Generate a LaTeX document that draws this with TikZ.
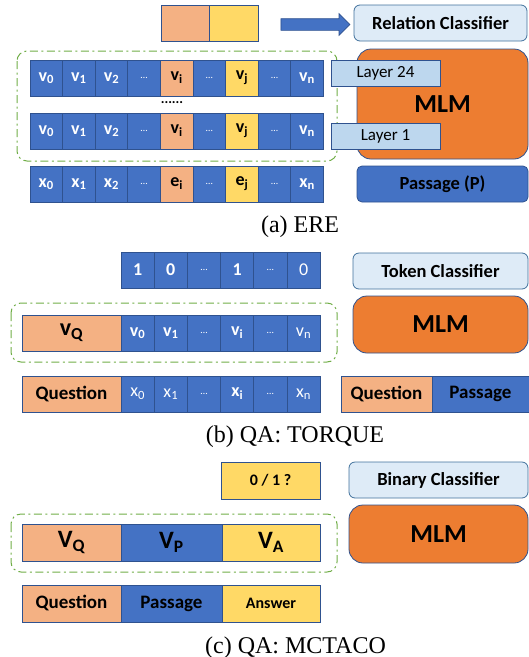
\documentclass[tikz,border=0pt]{standalone}
\usepackage{fontspec}
\setmainfont{Carlito}
\newfontfamily\capfont{Liberation Serif}
\usetikzlibrary{shapes.arrows}

\definecolor{cblue}{HTML}{4472C4}
\definecolor{bdblue}{HTML}{2F528F}
\definecolor{cpeach}{HTML}{F4B183}
\definecolor{cyel}{HTML}{FFD966}
\definecolor{corange}{HTML}{ED7D31}
\definecolor{clight}{HTML}{DEEBF7}
\definecolor{clayer}{HTML}{BDD7EE}
\definecolor{bdcls}{HTML}{41719C}
\definecolor{cgreen}{HTML}{70AD47}

\newcommand{\fsz}[1]{\fontsize{#1}{#1}\selectfont}

\begin{document}
\begin{tikzpicture}[x=1pt,y=-1pt,
    tokcell/.style={draw=bdblue, line width=0.7pt, fill=cblue, text=white, minimum width=32.6pt, minimum height=36pt, inner sep=0pt, font=\bfseries\fsz{18}},
    wide/.style={minimum width=99pt},
    peach/.style={fill=cpeach, text=black},
    yel/.style={fill=cyel, text=black},
    ellcell/.style={tokcell, font=\fsz{10}},
    clsbox/.style={draw=bdcls, line width=0.8pt, fill=clight, rounded corners=6pt, minimum height=36pt, inner sep=0pt, font=\bfseries\fsz{18.5}},
    mlmbox/.style={draw=bdblue, line width=0.8pt, fill=corange, rounded corners=14pt, inner sep=0pt, font=\bfseries\fsz{26}},
    layerbox/.style={draw=bdblue, line width=0.7pt, fill=clayer, minimum width=109pt, minimum height=26pt, inner sep=0pt, font=\fsz{17}},
    groupbox/.style={draw=cgreen, line width=1pt, dash pattern=on 8pt off 3.5pt on 2pt off 3.5pt, rounded corners=10pt},
    capt/.style={font=\capfont\fsz{24}, anchor=base}]
    \useasboundingbox (0,0) rectangle (529,657);

    %%%%%%%%%% (a) ERE
    % pair and arrow
    \node [tokcell, peach, minimum width=48pt] (pi) at (185,23) {};
    \node [tokcell, yel, minimum width=49pt] (pj) at (233.5,23) {};
    \node [single arrow, draw=bdblue, fill=cblue, line width=0.7pt, minimum height=69pt, inner sep=5.5pt, single arrow head extend=5pt] (arr) at (312.5,24.5) {};
    \node [clsbox, minimum width=173pt] (rel) at (440.5,23) {Relation Classifier};

    % group
    \draw [groupbox] (17,51) rectangle (337,161);

    % layer 24
    \node [tokcell] (t0) at (46.3,78) {v\textsubscript{0}};
    \node [tokcell] (t1) at (78.9,78) {v\textsubscript{1}};
    \node [tokcell] (t2) at (111.5,78) {v\textsubscript{2}};
    \node [ellcell] (t3) at (144.1,78) {\ldots};
    \node [tokcell, peach] (t4) at (176.7,78) {v\textsubscript{i}};
    \node [ellcell] (t5) at (209.3,78) {\ldots};
    \node [tokcell, yel] (t6) at (241.9,78) {v\textsubscript{j}};
    \node [ellcell] (t7) at (274.5,78) {\ldots};
    \node [tokcell] (t8) at (307.1,78) {v\textsubscript{n}};

    \node [font=\bfseries\fsz{14}] (skip) at (172,103) {......};

    % layer 1
    \node [tokcell] (m0) at (46.3,131) {v\textsubscript{0}};
    \node [tokcell] (m1) at (78.9,131) {v\textsubscript{1}};
    \node [tokcell] (m2) at (111.5,131) {v\textsubscript{2}};
    \node [ellcell] (m3) at (144.1,131) {\ldots};
    \node [tokcell, peach] (m4) at (176.7,131) {v\textsubscript{i}};
    \node [ellcell] (m5) at (209.3,131) {\ldots};
    \node [tokcell, yel] (m6) at (241.9,131) {v\textsubscript{j}};
    \node [ellcell] (m7) at (274.5,131) {\ldots};
    \node [tokcell] (m8) at (307.1,131) {v\textsubscript{n}};

    % input
    \node [tokcell] (x0) at (46.3,184) {x\textsubscript{0}};
    \node [tokcell] (x1) at (78.9,184) {x\textsubscript{1}};
    \node [tokcell] (x2) at (111.5,184) {x\textsubscript{2}};
    \node [ellcell] (x3) at (144.1,184) {\ldots};
    \node [tokcell, peach] (x4) at (176.7,184) {e\textsubscript{i}};
    \node [ellcell] (x5) at (209.3,184) {\ldots};
    \node [tokcell, yel] (x6) at (241.9,184) {e\textsubscript{j}};
    \node [ellcell] (x7) at (274.5,184) {\ldots};
    \node [tokcell] (x8) at (307.1,184) {x\textsubscript{n}};

    % MLM
    \node [mlmbox, minimum width=171pt, minimum height=110pt] (mlma) at (442.5,104) {MLM};
    \node [layerbox] (l24) at (385.5,73) {Layer 24};
    \node [layerbox] (l1) at (385.5,136) {Layer 1};
    \node [clsbox, fill=cblue, draw=bdblue, rounded corners=5pt, minimum width=171pt] (pas) at (442.5,184) {Passage (P)};

    \node [capt] (capa) at (300,232) {(a) ERE};

    %%%%%%%%%% (b) QA: TORQUE
    % labels
    \node [tokcell, minimum width=33.2pt] (y0) at (137.6,270) {1};
    \node [tokcell, minimum width=33.2pt] (y1) at (170.8,270) {0};
    \node [ellcell, minimum width=33.2pt] (y2) at (204,270) {\ldots};
    \node [tokcell, minimum width=33.2pt] (y3) at (237.2,270) {1};
    \node [ellcell, minimum width=33.2pt] (y4) at (270.4,270) {\ldots};
    \node [tokcell, minimum width=33.2pt, font=\fsz{18}] (y5) at (303.6,270) {0};
    \node [clsbox, minimum width=175pt] (tok) at (440.5,271) {Token Classifier};

    % group
    \draw [groupbox] (11,303) rectangle (337,362);
    \node [tokcell, peach, wide, font=\bfseries\fsz{24}] (vq) at (71.5,333) {v\textsubscript{Q}};
    \node [tokcell, minimum width=33.2pt] (b0) at (137.6,333) {v\textsubscript{0}};
    \node [tokcell, minimum width=33.2pt] (b1) at (170.8,333) {v\textsubscript{1}};
    \node [ellcell, minimum width=33.2pt] (b2) at (204,333) {\ldots};
    \node [tokcell, minimum width=33.2pt] (b3) at (237.2,333) {v\textsubscript{i}};
    \node [ellcell, minimum width=33.2pt] (b4) at (270.4,333) {\ldots};
    \node [tokcell, minimum width=33.2pt, font=\fsz{18}] (b5) at (303.6,333) {v\textsubscript{n}};
    \node [mlmbox, minimum width=175pt, minimum height=57pt] (mlmb) at (440.5,324.5) {MLM};

    % input
    \node [tokcell, peach, wide, font=\bfseries\fsz{19}] (qb) at (71.5,394) {Question};
    \node [tokcell, minimum width=33.2pt, font=\fsz{18}] (c0) at (137.6,394) {x\textsubscript{0}};
    \node [tokcell, minimum width=33.2pt, font=\fsz{18}] (c1) at (170.8,394) {x\textsubscript{1}};
    \node [ellcell, minimum width=33.2pt] (c2) at (204,394) {\ldots};
    \node [tokcell, minimum width=33.2pt] (c3) at (237.2,394) {x\textsubscript{i}};
    \node [ellcell, minimum width=33.2pt] (c4) at (270.4,394) {\ldots};
    \node [tokcell, minimum width=33.2pt, font=\fsz{18}] (c5) at (303.6,394) {x\textsubscript{n}};
    \node [tokcell, peach, minimum width=91pt, font=\bfseries\fsz{19}] (qr) at (386.5,394) {Question};
    \node [tokcell, minimum width=97pt, text=black, font=\bfseries\fsz{19}] (pr) at (480.5,394) {Passage};

    \node [capt] (capb) at (295,442) {(b) QA: TORQUE};

    %%%%%%%%%% (c) QA: MCTACO
    \node [tokcell, yel, minimum width=99pt, minimum height=37pt, font=\bfseries\fsz{16}] (bin) at (270.5,480.5) {0 / 1 ?};
    \node [clsbox, minimum width=179pt] (bcl) at (438.5,480) {Binary Classifier};

    % group
    \draw [groupbox] (11,514) rectangle (337,572);
    \node [tokcell, peach, wide, minimum height=37pt, font=\bfseries\fsz{25}] (vqc) at (71.5,542.5) {V\textsubscript{Q}};
    \node [tokcell, minimum width=101pt, minimum height=37pt, text=black, font=\bfseries\fsz{25}] (vpc) at (171.5,542.5) {V\textsubscript{P}};
    \node [tokcell, yel, minimum width=98pt, minimum height=37pt, font=\bfseries\fsz{25}] (vac) at (271,542.5) {V\textsubscript{A}};
    \node [mlmbox, minimum width=179pt, minimum height=58pt] (mlmc) at (438.5,534) {MLM};

    % input
    \node [tokcell, peach, wide, minimum height=37pt, font=\bfseries\fsz{19}] (qc) at (71.5,603.5) {Question};
    \node [tokcell, minimum width=101pt, minimum height=37pt, text=black, font=\bfseries\fsz{19}] (pc) at (171.5,603.5) {Passage};
    \node [tokcell, yel, minimum width=98pt, minimum height=37pt, font=\bfseries\fsz{16}] (ac) at (271,603.5) {Answer};

    \node [capt] (capc) at (295.5,653) {(c) QA: MCTACO};
\end{tikzpicture}
\end{document}
